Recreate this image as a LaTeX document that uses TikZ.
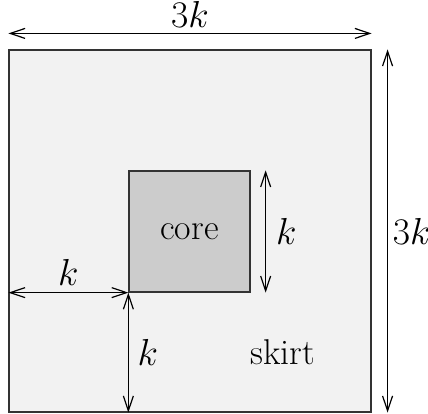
\documentclass[tikz,border=0pt]{standalone}
\usetikzlibrary{calc,arrows.meta}
\begin{document}
\begin{tikzpicture}[x=0.46pt,y=-0.46pt,
  font=\fontsize{16.5}{20}\selectfont,
  box/.style={draw=black!80, line width=0.55pt, inner sep=0pt},
  dimarrow/.style={line width=0.55pt, {Straight Barb[length=6.8pt,width=4.6pt]}-{Straight Barb[length=6.8pt,width=4.6pt]}},
  lbl/.style={inner sep=0pt}]
\useasboundingbox (0,0) rectangle (428,414);
\node[box, fill=gray!10, minimum size=166.5pt] (outer) at (190,231) {};
\node[box, fill=gray!40, minimum size=55.7pt] (core) at (189.5,231.5) {core};
\node[lbl] (skirt) at (283,352) {skirt};
% top 3k
\coordinate (t1) at ($(outer.north west)+(0,-16)$);
\coordinate (t2) at ($(outer.north east)+(0,-16)$);
\draw[dimarrow] (t1) -- (t2) node[lbl, midway, above=2.6pt] (ltop) {$3k$};
% right 3k
\coordinate (r1) at ($(outer.north east)+(16,0)$);
\coordinate (r2) at ($(outer.south east)+(16,0)$);
\draw[dimarrow] (r1) -- (r2) node[lbl, midway, right=2.2pt] (lright) {$3k$};
% core k
\coordinate (c1) at ($(core.north east)+(15,0)$);
\coordinate (c2) at ($(core.south east)+(15,0)$);
\draw[dimarrow] (c1) -- (c2) node[lbl, midway, right=4.5pt] (lcore) {$k$};
% left k
\coordinate (w1) at (outer.west |- core.south west);
\draw[dimarrow] (w1) -- (core.south west) node[lbl, midway, above=3pt] (lleft) {$k$};
% bottom k
\coordinate (b1) at (core.south west |- outer.south);
\draw[dimarrow] (core.south west) -- (b1) node[lbl, midway, right=4pt] (lbot) {$k$};
\end{tikzpicture}
\end{document}
